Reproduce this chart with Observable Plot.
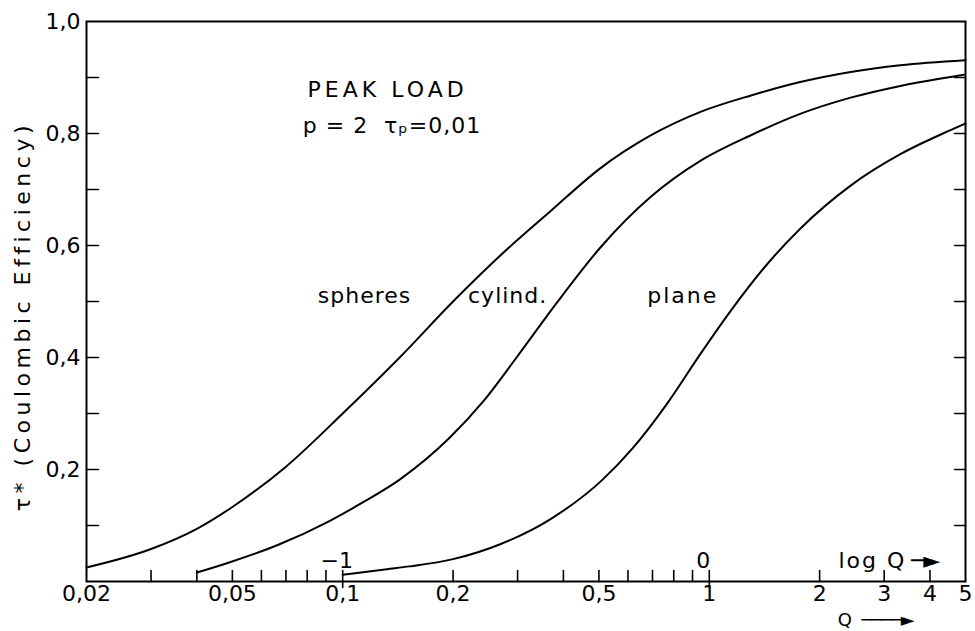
<!DOCTYPE html>
<html><head><meta charset="utf-8">
<script src="https://cdn.jsdelivr.net/npm/d3@7"></script>
<script src="https://cdn.jsdelivr.net/npm/@observablehq/plot@0.6"></script>
<style>
body{margin:0;background:#fff;}
svg{font-family:"DejaVu Sans",sans-serif;}
.ls1 text{letter-spacing:1px;}
.ls2 text{letter-spacing:2px;}
.ls4 text{letter-spacing:4px;}
.ls5 text{letter-spacing:4.5px;}
.tight text{letter-spacing:-1px;}
</style>
</head><body><div id="chart"></div>
<script>
// Curves: Q (log scale) vs tau* (coulombic efficiency)
const spheresQ   = [0.02, 0.03, 0.04, 0.05, 0.07, 0.1, 0.143, 0.2, 0.27, 0.37, 0.5, 0.69, 0.95, 1.3, 1.77, 2.43, 3.32, 5];
const spheresTau = [0.025, 0.058, 0.094, 0.133, 0.205, 0.30, 0.40, 0.50, 0.583, 0.662, 0.736, 0.796, 0.839, 0.868, 0.892, 0.910, 0.922, 0.931];
const cylindQ    = [0.04, 0.049, 0.067, 0.092, 0.114, 0.143, 0.196, 0.242, 0.298, 0.384, 0.504, 0.69, 0.945, 1.29, 1.77, 2.43, 3.32, 4.95];
const cylindTau  = [0.016, 0.034, 0.066, 0.108, 0.142, 0.182, 0.257, 0.322, 0.400, 0.498, 0.596, 0.686, 0.751, 0.796, 0.835, 0.864, 0.885, 0.905];
const planeQ     = [0.1, 0.132, 0.152, 0.2, 0.27, 0.37, 0.51, 0.62, 0.77, 0.945, 1.14, 1.44, 1.77, 2.43, 3.32, 4.55, 5];
const planeTau   = [0.012, 0.022, 0.027, 0.040, 0.067, 0.112, 0.181, 0.239, 0.319, 0.406, 0.482, 0.567, 0.630, 0.707, 0.763, 0.806, 0.818];

const xDomain = [0.02, 5];
const yDomain = [0, 1];
const xLabelTicks = [0.02, 0.05, 0.1, 0.2, 0.5, 1, 2, 3, 4, 5];
const xMinorTicks = [0.03, 0.04, 0.05, 0.06, 0.07, 0.08, 0.09, 0.1, 0.2, 0.3, 0.4, 0.5, 0.6, 0.7, 0.8, 0.9, 1, 2, 3, 4];
const yLabelTicks = [0.2, 0.4, 0.6, 0.8, 1.0];
const yMinorTicks = [0.1, 0.2, 0.3, 0.4, 0.5, 0.6, 0.7, 0.8, 0.9];
const logQTicks  = [0.1, 1];
const logQLabels = ["−1", "0"];

const toRows = (qs, ts) => qs.map((q, i) => ({q, tau: ts[i]}));
const tickShape = {draw(ctx, l) { ctx.moveTo(0, 0); ctx.lineTo(0, -l); }};
const comma = d => String(d).replace(".", ",");

const chart = Plot.plot({
  width: 975, height: 631,
  marginLeft: 86, marginRight: 10, marginTop: 21, marginBottom: 50,
  style: {fontSize: "22px", fontFamily: "DejaVu Sans, sans-serif", background: "#fff", color: "#000", overflow: "visible"},
  x: {type: "log", domain: xDomain, axis: null},
  y: {domain: yDomain, axis: null},
  marks: [
    Plot.text(xLabelTicks, {x: d => d, frameAnchor: "bottom", lineAnchor: "top", dy: 4, text: comma, fill: "#000"}),
    Plot.text(yLabelTicks, {y: d => d, frameAnchor: "left", textAnchor: "end", dx: -6, text: d => d.toFixed(1).replace(".", ","), fill: "#000"}),
    Plot.vector(xMinorTicks, {x: d => d, frameAnchor: "bottom", rotate: 0, length: 11, anchor: "start", shape: tickShape, stroke: "#000", strokeWidth: 1.6}),
    Plot.vector(logQTicks, {x: d => d, frameAnchor: "bottom", rotate: 180, length: 6, anchor: "start", shape: tickShape, stroke: "#000", strokeWidth: 1.6}),
    Plot.vector(yMinorTicks, {y: d => d, frameAnchor: "left", rotate: 90, length: 12, anchor: "start", shape: tickShape, stroke: "#000", strokeWidth: 1.6}),
    Plot.vector(yMinorTicks, {y: d => d, frameAnchor: "right", rotate: -90, length: 11, anchor: "start", shape: tickShape, stroke: "#000", strokeWidth: 1.6}),
    Plot.frame({stroke: "#000", strokeWidth: 2}),
    Plot.line(toRows(spheresQ, spheresTau), {x: "q", y: "tau", curve: "monotone-x", stroke: "#000", strokeWidth: 2}),
    Plot.line(toRows(cylindQ, cylindTau), {x: "q", y: "tau", curve: "monotone-x", stroke: "#000", strokeWidth: 2}),
    Plot.line(toRows(planeQ, planeTau), {x: "q", y: "tau", curve: "monotone-x", stroke: "#000", strokeWidth: 2}),
    Plot.text(logQTicks, {x: d => d, y: 0.037, text: (d, i) => logQLabels[i], dx: -6, fill: "#000"}),
    Plot.text(["log Q"], {x: 2.25, y: 0.037, textAnchor: "start", fill: "#000", className: "ls2"}),
    Plot.text(["─►"], {x: 3.55, y: 0.037, textAnchor: "start", fill: "#000", className: "tight"}),
    Plot.text(["Q"], {x: 2.24, y: -0.070, textAnchor: "start", fill: "#000", fontSize: 18}),
    Plot.text(["────►"], {x: 2.6, y: -0.070, textAnchor: "start", fill: "#000", fontSize: 18, className: "tight"}),
    Plot.text(["PEAK LOAD"], {x: 0.0802, y: 0.878, textAnchor: "start", fill: "#000", className: "ls4"}),
    Plot.text(["p = 2  τₚ=0,01"], {x: 0.0778, y: 0.813, textAnchor: "start", fill: "#000", className: "ls1"}),
    Plot.text(["spheres"], {x: 0.0855, y: 0.51, textAnchor: "start", fill: "#000", className: "ls1"}),
    Plot.text(["cylind."], {x: 0.2197, y: 0.51, textAnchor: "start", fill: "#000", className: "ls1"}),
    Plot.text(["plane"], {x: 0.677, y: 0.51, textAnchor: "start", fill: "#000", className: "ls2"}),
    Plot.text(["τ* (Coulombic Efficiency)"], {x: xDomain[0], y: 0.474, rotate: -90, dx: -64, fill: "#000", className: "ls5"})
  ]
});
document.getElementById("chart").appendChild(chart);
</script>
</body></html>
